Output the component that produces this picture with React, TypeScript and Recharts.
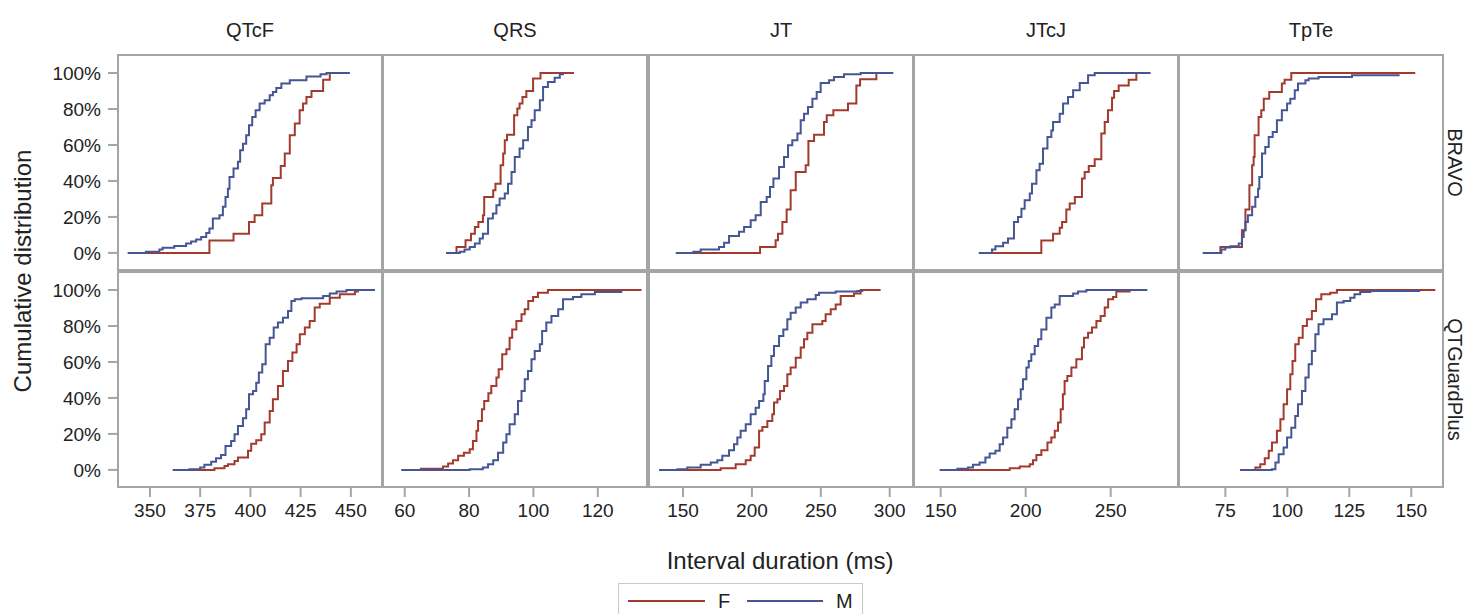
import React from 'react';
import { LineChart, Line, XAxis, YAxis } from 'recharts';

type Pt = [number, number];

const measures = ['QTcF', 'QRS', 'JT', 'JTcJ', 'TpTe'];
const devices = ['BRAVO', 'QTGuardPlus'];
const sexes = ['F', 'M'];
const pctTicks = [0, 20, 40, 60, 80, 100];
const xTicks = [
  [350, 375, 400, 425, 450],
  [60, 80, 100, 120],
  [150, 200, 250, 300],
  [150, 200, 250],
  [75, 100, 125, 150],
];
const xDomains: [number, number][] = [
  [334.1, 465.5],
  [53.25, 135.3],
  [125.3, 316.9],
  [134.3, 289.6],
  [56.3, 162.8],
];

// ECDF step points [interval ms, cumulative %]
const bravoQtcfF: Pt[] = [[348.0, 0], [379.6, 6.9], [391.6, 10.6], [399.3, 17.2], [402.1, 20.9], [405.9, 27.4], [410.4, 37.6], [411.2, 41.7], [415.1, 48.3], [417.1, 55.2], [419.6, 65.4], [422.1, 71.9], [424.5, 79.3], [426.2, 83.0], [427.9, 86.7], [430.4, 90.0], [436.2, 96.3], [439.5, 100]];
const bravoQtcfM: Pt[] = [[338.9, 0], [348.0, 0.7], [354.7, 1.9], [356.3, 2.8], [362.1, 3.9], [368.0, 5.2], [370.5, 6.3], [373.0, 7.4], [375.5, 8.9], [378.0, 11.1], [379.6, 13.5], [381.3, 19.1], [384.6, 20.9], [386.3, 25.6], [387.6, 31.1], [388.8, 35.7], [389.6, 42.2], [391.6, 46.9], [393.8, 50.6], [394.9, 57.0], [396.3, 60.7], [397.9, 65.4], [399.3, 70.9], [400.9, 75.6], [402.6, 79.3], [404.6, 83.0], [407.1, 84.8], [409.6, 87.6], [411.2, 89.4], [412.9, 91.7], [415.4, 94.1], [419.6, 95.9], [427.9, 98.1], [434.9, 99.3], [437.9, 100], [449.5, 100]];

const bravoQrsF: Pt[] = [[72.9, 0], [76.1, 3.3], [78.9, 7.0], [80.6, 10.7], [81.8, 14.4], [82.9, 17.2], [84.3, 20.9], [84.7, 31.1], [87.5, 34.8], [88.2, 38.5], [89.8, 48.7], [90.6, 55.2], [91.1, 62.6], [91.8, 65.7], [94.0, 76.5], [95.0, 80.2], [95.7, 83.0], [96.6, 86.7], [97.8, 90.0], [99.9, 96.9], [102.2, 100], [112.6, 100]];
const bravoQrsM: Pt[] = [[72.9, 0], [77.1, 0.7], [78.6, 1.9], [80.2, 3.3], [81.8, 5.2], [83.3, 8.0], [84.3, 10.7], [85.9, 19.1], [87.4, 21.9], [88.5, 26.5], [89.5, 30.2], [91.1, 33.0], [92.1, 38.5], [93.2, 45.0], [94.2, 53.3], [95.7, 58.0], [96.8, 62.6], [98.3, 70.0], [99.4, 73.7], [100.4, 79.3], [102.0, 84.8], [103.0, 92.2], [104.5, 95.0], [106.6, 97.4], [108.2, 99.3], [109.2, 100]];

const bravoJtF: Pt[] = [[157.5, 0], [205.9, 3.3], [217.2, 7.0], [218.9, 10.6], [222.1, 17.2], [225.2, 24.1], [228.1, 34.8], [231.8, 45.0], [239.0, 48.7], [241.0, 62.2], [245.1, 65.7], [252.3, 72.8], [254.3, 76.5], [259.1, 79.3], [269.7, 83.0], [275.8, 93.1], [278.5, 96.5], [290.3, 100]];
const bravoJtM: Pt[] = [[144.7, 0], [157.5, 0.7], [162.8, 1.9], [176.1, 3.3], [179.8, 5.6], [183.4, 9.4], [190.6, 11.7], [194.3, 14.4], [199.1, 18.1], [202.7, 20.9], [206.4, 28.3], [210.7, 31.1], [213.1, 36.7], [215.6, 41.3], [219.7, 47.8], [223.3, 53.3], [226.2, 59.8], [229.3, 62.6], [233.0, 66.3], [235.4, 73.7], [237.8, 77.4], [240.7, 81.1], [243.9, 85.7], [247.0, 89.4], [249.9, 94.4], [256.0, 95.9], [259.6, 97.8], [266.8, 99.3], [278.9, 100], [302.6, 100]];

const bravoJtcjF: Pt[] = [[180.8, 0], [209.2, 6.9], [216.1, 10.6], [220.0, 14.0], [221.4, 17.2], [223.9, 24.1], [225.9, 27.4], [228.9, 31.1], [233.1, 41.3], [234.7, 45.0], [237.1, 48.3], [240.6, 52.0], [244.5, 66.3], [246.5, 72.8], [248.4, 79.3], [250.8, 86.3], [252.0, 90.0], [254.7, 93.1], [260.6, 96.3], [265.1, 100]];
const bravoJtcjM: Pt[] = [[172.4, 0], [180.2, 1.9], [182.2, 3.7], [186.7, 5.6], [189.6, 8.0], [193.1, 17.2], [195.5, 20.0], [197.5, 24.6], [199.4, 29.3], [202.4, 33.0], [203.7, 38.5], [206.3, 45.9], [208.2, 49.6], [210.2, 58.0], [212.8, 64.4], [215.1, 68.1], [216.1, 72.8], [220.0, 77.4], [222.0, 83.0], [224.9, 86.7], [227.9, 90.4], [231.8, 94.4], [236.7, 98.7], [240.6, 100], [273.5, 100]];

const bravoTpteF: Pt[] = [[65.9, 0], [73.0, 3.3], [81.7, 12.6], [83.1, 24.1], [84.7, 37.6], [85.8, 48.7], [86.4, 53.3], [86.8, 65.4], [88.4, 75.6], [89.5, 79.3], [90.5, 85.7], [92.7, 89.4], [97.8, 94.1], [98.9, 96.3], [101.6, 100], [151.6, 100]];
const bravoTpteM: Pt[] = [[65.9, 0], [73.4, 1.9], [75.0, 3.0], [77.0, 3.7], [80.4, 5.2], [81.7, 8.9], [82.4, 12.6], [83.1, 17.2], [84.1, 20.9], [85.8, 25.6], [87.1, 31.1], [88.2, 35.7], [88.7, 42.2], [89.8, 55.2], [91.1, 58.9], [92.5, 64.4], [94.1, 67.2], [95.8, 73.7], [97.8, 79.3], [99.9, 83.0], [101.2, 85.7], [103.0, 90.4], [104.3, 94.1], [107.3, 95.9], [108.6, 96.9], [112.6, 97.8], [126.1, 98.7], [144.9, 99.3]];

const qtgQtcfF: Pt[] = [[369.6, 0], [382.1, 0.9], [387.1, 2.2], [388.8, 3.1], [392.1, 5.0], [393.8, 6.9], [398.8, 10.6], [400.4, 14.6], [402.9, 16.5], [405.4, 19.8], [407.1, 26.3], [409.6, 32.8], [411.2, 39.3], [413.7, 46.7], [416.2, 55.0], [418.7, 60.6], [420.9, 65.2], [423.0, 69.8], [424.6, 75.4], [427.1, 79.1], [429.5, 82.8], [432.0, 90.2], [434.5, 92.4], [439.5, 95.7], [444.5, 97.6], [452.0, 99.1], [454.0, 99.1]];
const qtgQtcfM: Pt[] = [[361.3, 0], [369.6, 0.4], [375.0, 1.3], [377.1, 2.8], [380.5, 4.6], [382.9, 6.5], [385.4, 8.3], [387.6, 13.3], [390.4, 16.1], [392.1, 19.8], [393.8, 24.4], [396.3, 28.7], [397.9, 33.7], [399.3, 42.0], [401.3, 43.9], [402.9, 48.5], [404.2, 54.1], [405.9, 58.7], [407.6, 69.8], [409.6, 73.5], [411.6, 79.1], [413.7, 81.9], [416.2, 84.6], [418.7, 88.3], [420.4, 93.9], [422.1, 94.8], [425.4, 95.4], [436.2, 96.7], [439.5, 98.0], [442.9, 99.1], [447.8, 100], [462.0, 100]];

const qtgQrsF: Pt[] = [[59.0, 0], [65.0, 0.7], [71.9, 1.9], [73.5, 3.5], [75.0, 5.4], [76.6, 7.8], [78.4, 9.6], [80.2, 11.5], [81.2, 16.1], [82.3, 21.7], [82.8, 27.2], [84.0, 33.7], [84.7, 38.3], [86.0, 42.6], [86.9, 46.7], [88.5, 51.3], [89.2, 55.9], [90.3, 64.3], [91.6, 67.0], [92.6, 73.5], [93.4, 78.1], [94.7, 82.8], [96.3, 86.5], [97.3, 89.3], [98.4, 93.9], [99.9, 96.1], [101.4, 98.5], [104.5, 100], [133.6, 100]];
const qtgQrsM: Pt[] = [[59.0, 0], [80.2, 0.4], [84.3, 1.3], [85.9, 3.1], [87.5, 5.4], [89.0, 9.6], [90.6, 15.2], [91.6, 19.8], [92.6, 25.4], [94.2, 30.9], [95.2, 38.3], [96.3, 43.9], [97.3, 50.4], [98.3, 55.0], [99.4, 61.5], [100.4, 66.1], [102.0, 69.8], [102.7, 77.2], [104.0, 81.9], [105.6, 85.6], [107.7, 89.3], [109.2, 94.8], [112.3, 96.1], [114.9, 97.6], [119.1, 98.9], [127.3, 100]];

const qtgJtF: Pt[] = [[145.9, 0], [177.3, 0.9], [188.2, 3.1], [195.5, 5.4], [199.1, 7.8], [202.0, 12.4], [205.2, 21.7], [207.6, 23.9], [211.2, 27.2], [214.8, 30.9], [216.0, 37.4], [218.5, 39.3], [220.4, 43.9], [223.3, 46.7], [225.7, 53.1], [228.1, 56.9], [231.8, 62.4], [235.4, 68.0], [237.8, 72.6], [240.2, 76.3], [243.9, 80.9], [251.1, 82.8], [253.5, 86.5], [257.2, 89.3], [260.8, 92.0], [264.4, 96.7], [274.1, 98.0], [278.9, 100], [293.4, 100]];
const qtgJtM: Pt[] = [[132.6, 0], [145.9, 0.4], [153.1, 1.3], [162.8, 2.8], [170.1, 4.1], [174.9, 5.4], [178.5, 7.8], [183.4, 10.9], [187.0, 14.3], [189.4, 18.0], [191.8, 21.7], [195.5, 25.4], [199.1, 30.9], [202.7, 34.6], [205.2, 38.3], [208.3, 42.0], [209.3, 49.4], [211.7, 57.8], [214.1, 63.3], [216.0, 68.9], [219.7, 74.4], [222.8, 78.1], [225.7, 83.7], [228.1, 87.4], [231.8, 90.2], [235.4, 93.0], [240.2, 94.8], [246.3, 97.2], [248.7, 98.5], [260.8, 99.1], [276.5, 99.4], [280.1, 100]];

const qtgJtcjF: Pt[] = [[159.8, 0], [190.6, 0.9], [196.5, 1.9], [202.4, 3.1], [204.3, 5.4], [206.3, 8.3], [209.2, 10.9], [212.8, 15.2], [215.1, 18.0], [217.1, 21.7], [219.0, 26.3], [220.6, 33.7], [221.9, 42.0], [222.9, 49.4], [224.5, 52.2], [226.9, 56.9], [229.8, 61.5], [233.1, 68.0], [234.3, 73.5], [236.7, 76.3], [239.0, 79.1], [241.6, 82.8], [244.1, 85.6], [246.5, 90.2], [248.5, 94.8], [251.4, 96.1], [253.3, 99.1], [261.7, 99.1]];
const qtgJtcjM: Pt[] = [[149.4, 0], [159.8, 0.6], [166.1, 1.3], [169.0, 2.8], [172.9, 4.1], [176.3, 6.9], [178.8, 9.1], [182.2, 10.6], [184.7, 14.3], [186.7, 18.0], [189.2, 23.5], [191.6, 28.1], [193.5, 33.7], [195.5, 39.3], [197.1, 44.8], [198.4, 50.4], [200.4, 56.9], [201.8, 60.6], [203.3, 64.3], [205.3, 68.9], [207.3, 72.6], [209.2, 78.1], [212.2, 84.6], [215.1, 90.2], [217.1, 92.0], [220.0, 96.7], [227.9, 98.0], [230.8, 99.1], [235.7, 100], [271.6, 100]];

const qtgTpteF: Pt[] = [[81.0, 0], [87.1, 1.3], [89.1, 3.1], [90.9, 6.5], [92.5, 10.6], [93.8, 15.2], [95.8, 21.7], [97.2, 28.1], [98.5, 36.5], [99.9, 44.8], [101.2, 53.1], [102.1, 60.6], [103.2, 69.8], [104.6, 73.5], [106.2, 80.0], [107.9, 83.7], [109.9, 88.3], [111.6, 94.8], [113.7, 97.6], [117.3, 98.5], [120.0, 100], [159.7, 100]];
const qtgTpteM: Pt[] = [[81.0, 0], [93.8, 0.4], [95.2, 4.1], [96.5, 8.7], [98.5, 12.4], [99.9, 18.0], [101.6, 23.5], [103.2, 30.0], [104.3, 36.5], [105.9, 43.9], [107.3, 51.3], [108.6, 58.7], [109.9, 66.1], [111.3, 75.4], [112.6, 80.9], [114.6, 83.7], [118.0, 86.5], [120.0, 93.0], [122.7, 93.9], [125.4, 95.7], [127.1, 97.6], [129.4, 98.9], [133.5, 99.4], [153.6, 99.4]];

// [device][measure] -> [F, M]
const panels: Pt[][][][] = [
  [[bravoQtcfF, bravoQtcfM], [bravoQrsF, bravoQrsM], [bravoJtF, bravoJtM], [bravoJtcjF, bravoJtcjM], [bravoTpteF, bravoTpteM]],
  [[qtgQtcfF, qtgQtcfM], [qtgQrsF, qtgQrsM], [qtgJtF, qtgJtM], [qtgJtcjF, qtgJtcjM], [qtgTpteF, qtgTpteM]],
];

const COLORS = ['#A23A2E', '#445694'];
const FRAME = '#a3a6a9';
const TEXT = '#222';

const COL_LEFT = [118, 383, 649, 914, 1179];
const ROW_TOP = [55, 272];
const PW = 264;
const PH = 215;
const Y_AXIS_W = 80;
const X_AXIS_H = 50;

const toRows = (pts: Pt[]) => pts.map(([x, y]) => ({ x, y }));

function Panel({ row, col }: { row: number; col: number }) {
  const showY = col === 0;
  const showX = row === 1;
  const offX = showY ? Y_AXIS_W : 0;
  return (
    <div style={{ position: 'absolute', left: COL_LEFT[col] - offX, top: ROW_TOP[row] }}>
      <LineChart
        width={PW + offX}
        height={PH + (showX ? X_AXIS_H : 0)}
        margin={{ top: 0, right: 0, bottom: 0, left: 0 }}
      >
        <XAxis
          type="number"
          dataKey="x"
          domain={xDomains[col]}
          allowDataOverflow
          ticks={xTicks[col]}
          interval={0}
          hide={!showX}
          height={X_AXIS_H}
          axisLine={false}
          tickLine={{ stroke: FRAME, strokeWidth: 2 }}
          tickSize={10}
          tickMargin={7}
          tick={{ fontSize: 19, fill: TEXT }}
        />
        <YAxis
          type="number"
          domain={[-9.5, 110]}
          allowDataOverflow
          ticks={pctTicks}
          interval={0}
          hide={!showY}
          width={Y_AXIS_W}
          axisLine={false}
          tickLine={{ stroke: FRAME, strokeWidth: 2 }}
          tickSize={10}
          tickMargin={7}
          tick={{ fontSize: 19, fill: TEXT }}
          tickFormatter={(v: number) => `${v}%`}
        />
        {sexes.map((s, i) => (
          <Line
            key={s}
            name={s}
            data={toRows(panels[row][col][i])}
            dataKey="y"
            type="stepAfter"
            stroke={COLORS[i]}
            strokeWidth={2}
            dot={false}
            isAnimationActive={false}
          />
        ))}
      </LineChart>
      <div
        style={{
          position: 'absolute',
          left: offX - 1,
          top: -1,
          width: PW + 2,
          height: PH + 2,
          border: `2px solid ${FRAME}`,
          boxSizing: 'border-box',
          pointerEvents: 'none',
        }}
      />
    </div>
  );
}

export default function App() {
  return (
    <div
      style={{
        position: 'absolute',
        left: 0,
        top: 0,
        width: 1468,
        height: 614,
        background: '#fff',
        overflow: 'hidden',
        fontFamily: '"Liberation Sans", Arial, sans-serif',
      }}
    >
      {devices.map((d, r) => measures.map((m, c) => <Panel key={d + m} row={r} col={c} />))}
      <svg width={1468} height={614} style={{ position: 'absolute', left: 0, top: 0, pointerEvents: 'none' }}>
        {measures.map((m, c) => (
          <text key={m} x={COL_LEFT[c] + PW / 2} y={30} textAnchor="middle" dominantBaseline="central" fontSize={20} fill={TEXT}>
            {m}
          </text>
        ))}
        {devices.map((d, r) => {
          const cy = ROW_TOP[r] + PH / 2;
          return (
            <text key={d} x={1455} y={cy} transform={`rotate(90 1455 ${cy})`} textAnchor="middle" dominantBaseline="central" fontSize={20} fill={TEXT}>
              {d}
            </text>
          );
        })}
        <text x={22} y={271} transform="rotate(-90 22 271)" textAnchor="middle" dominantBaseline="central" fontSize={24} fill={TEXT}>
          Cumulative distribution
        </text>
        <text x={780} y={560} textAnchor="middle" dominantBaseline="central" fontSize={24} fill={TEXT}>
          Interval duration (ms)
        </text>
        <rect x={618.5} y={583.5} width={244} height={40} fill="#fff" stroke="#c8c8c8" />
        <line x1={628} y1={601} x2={705} y2={601} stroke={COLORS[0]} strokeWidth={2} />
        <text x={718} y={601} dominantBaseline="central" fontSize={20} fill={TEXT}>
          {sexes[0]}
        </text>
        <line x1={747} y1={601} x2={823} y2={601} stroke={COLORS[1]} strokeWidth={2} />
        <text x={836} y={601} dominantBaseline="central" fontSize={20} fill={TEXT}>
          {sexes[1]}
        </text>
      </svg>
    </div>
  );
}
